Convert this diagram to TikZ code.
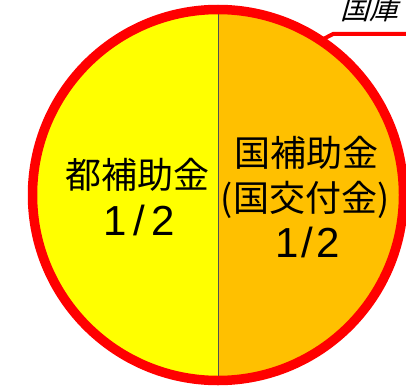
\documentclass[tikz,border=0pt]{standalone}
\usepackage{fontspec}
\setmainfont{Noto Sans CJK JP}
\newfontfamily\digitfont{Liberation Sans}
\usetikzlibrary{calc}
\definecolor{yellowc}{RGB}{255,255,0}
\definecolor{orangec}{RGB}{255,192,0}
\definecolor{redc}{RGB}{255,0,0}
\definecolor{divc}{RGB}{80,80,80}
\tikzset{
  label36/.style={anchor=base, inner sep=0pt, font=\fontsize{36}{36}\selectfont, text=black},
  frac/.style={anchor=base, inner sep=0pt, font=\digitfont\fontsize{42}{42}\selectfont, text=black},
  ring/.style={draw=redc, line width=9.5pt},
  leader/.style={draw=redc, line width=4pt, line join=miter},
}
\begin{document}
\begin{tikzpicture}[x=1pt,y=1pt]
\useasboundingbox (0,0) rectangle (406,389);
\clip (0,0) rectangle (406,389);
\coordinate (c) at (218,194);
\fill[yellowc] (218,379.5) arc[start angle=90,end angle=270,radius=185.5] -- cycle;
\fill[orangec] (218,379.5) arc[start angle=90,end angle=-90,radius=185.5] -- cycle;
\coordinate (dtop) at (218,375);
\coordinate (dbot) at (218,13);
\draw[divc, line width=1pt] (dtop) -- (dbot);
\draw[ring] (c) circle[radius=185.5];
\coordinate (lstart) at ($(c)+(56:188)$);
\coordinate (lbend) at (333,355);
\coordinate (lend) at (412,355);
\draw[leader] (lstart) -- (lbend) -- (lend);
\node[anchor=base west, inner sep=0pt, font=\fontsize{29}{29}\selectfont, xslant=0.28] (kokko) at (340,369) {国庫};
\node[label36] (l1) at (137,201) {都補助金};
\node[frac] (l2) at (139,154) {1\hspace{7pt}/\hspace{6pt}2};
\node[label36] (r1) at (306,223) {国補助金};
\node[label36] (r2) at (305,178) {(国交付金)};
\node[frac] (r3) at (308,132) {1\hspace{2pt}/\hspace{4pt}2};
\end{tikzpicture}
\end{document}
